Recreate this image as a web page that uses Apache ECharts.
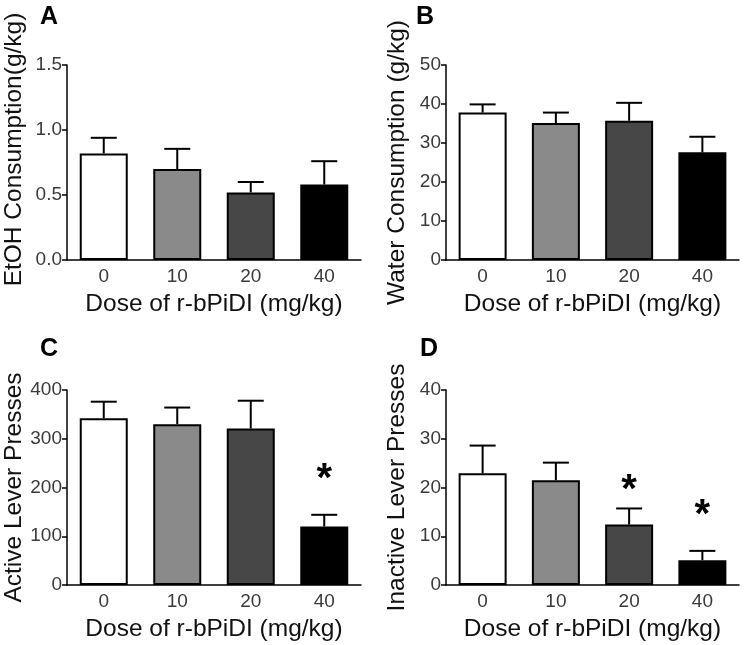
<!DOCTYPE html>
<html>
<head>
<meta charset="utf-8">
<script src="https://cdn.jsdelivr.net/npm/echarts@6/dist/echarts.min.js"></script>
<style>html,body{margin:0;padding:0;background:#fff}#c{width:749px;height:645px}</style>
</head>
<body>
<div id="c"></div>
<script>
const doses = ['0', '10', '20', '40'];
const etohMean = [0.82, 0.70, 0.52, 0.58];
const etohSem = [0.12, 0.155, 0.08, 0.18];
const waterMean = [37.8, 35.1, 35.7, 27.6];
const waterSem = [2.1, 2.7, 4.6, 4.0];
const activeMean = [342, 330, 321, 120];
const activeSem = [34, 34, 57, 24];
const inactiveMean = [22.9, 21.5, 12.4, 5.1];
const inactiveSem = [5.7, 3.6, 3.3, 1.9];
const activeStars = [null, null, null, 232];
const inactiveStars = [null, null, 20.9, 15.8];
const panelLetters = ['A', 'B', 'C', 'D'];
const yTitles = ['EtOH Consumption(g/kg)', 'Water Consumption (g/kg)', 'Active Lever Presses', 'Inactive Lever Presses'];
const xTitle = 'Dose of r-bPiDI (mg/kg)';
const yMax = [1.5, 50, 400, 40];
const yStep = [0.5, 10, 100, 10];
const barColors = ['#ffffff', '#8a8a8a', '#474747', '#000000'];

const FONT = 'Liberation Sans, Arial, sans-serif';
const grids = [
  {left: 67, top: 65, width: 294, height: 195},
  {left: 446, top: 65, width: 293, height: 195},
  {left: 67, top: 390, width: 294, height: 195},
  {left: 446, top: 390, width: 293, height: 195}
];
const letterPos = [[35, 0], [411, 0], [35, 332], [415, 332]];

const means = [etohMean, waterMean, activeMean, inactiveMean];
const sems = [etohSem, waterSem, activeSem, inactiveSem];

function errRender(params, api) {
  const x = api.value(0), m = api.value(1), s = api.value(2);
  const p0 = api.coord([x, m]);
  const p1 = api.coord([x, m + s]);
  const hw = 13;
  return {
    type: 'group',
    children: [
      {type: 'line', shape: {x1: p0[0], y1: p0[1], x2: p1[0], y2: p1[1]}, style: {stroke: '#000', lineWidth: 2}},
      {type: 'line', shape: {x1: p1[0] - hw, y1: p1[1], x2: p1[0] + hw, y2: p1[1]}, style: {stroke: '#000', lineWidth: 2}}
    ]
  };
}
function starRender(params, api) {
  const p = api.coord([api.value(0), api.value(1)]);
  return {
    type: 'text',
    x: p[0], y: p[1] + 8,
    style: {text: '*', font: 'bold 40px ' + FONT, fill: '#000', align: 'center', verticalAlign: 'middle'}
  };
}

const xAxes = [], yAxes = [], series = [];
for (let i = 0; i < 4; i++) {
  xAxes.push({
    gridIndex: i, type: 'category', data: doses,
    axisLine: {lineStyle: {color: '#000', width: 1.5}},
    axisTick: {alignWithLabel: true, length: 5, lineStyle: {color: '#000', width: 1.5}},
    axisLabel: {color: '#3a3a3a', fontSize: 19, fontFamily: FONT, margin: 7},
    name: xTitle, nameLocation: 'middle', nameGap: 32,
    nameTextStyle: {color: '#111', fontSize: 24.5, fontFamily: FONT}
  });
  yAxes.push({
    gridIndex: i, type: 'value', min: 0, max: yMax[i], interval: yStep[i],
    splitLine: {show: false},
    axisLine: {show: true, lineStyle: {color: '#000', width: 1.5}},
    axisTick: {show: true, length: 5, lineStyle: {color: '#000', width: 1.5}},
    axisLabel: {color: '#3a3a3a', fontSize: 19, fontFamily: FONT, margin: 5,
      formatter: i === 0 ? (v => v.toFixed(1)) : (v => String(v))},
    name: yTitles[i], nameLocation: 'middle', nameGap: i % 2 === 0 ? 40 : 36,
    nameTextStyle: {color: '#111', fontSize: 24.5, fontFamily: FONT, padding: i === 0 ? [0, 0, 0, 26] : 0}
  });
  series.push({
    type: 'bar', xAxisIndex: i, yAxisIndex: i, barWidth: 48,
    data: means[i].map((v, k) => ({value: v, itemStyle: {color: barColors[k]}})),
    itemStyle: {borderColor: '#000', borderWidth: 2},
    silent: true
  });
  series.push({
    type: 'custom', xAxisIndex: i, yAxisIndex: i, renderItem: errRender, z: 3,
    data: means[i].map((v, k) => [k, v, sems[i][k]]), silent: true
  });
}
series.push({
  type: 'custom', xAxisIndex: 2, yAxisIndex: 2, renderItem: starRender, z: 4,
  data: activeStars.map((v, k) => v === null ? null : [k, v]).filter(d => d), silent: true
});
series.push({
  type: 'custom', xAxisIndex: 3, yAxisIndex: 3, renderItem: starRender, z: 4,
  data: inactiveStars.map((v, k) => v === null ? null : [k, v]).filter(d => d), silent: true
});

const chart = echarts.init(document.getElementById('c'), null, {renderer: 'canvas'});
chart.setOption({
  animation: false,
  backgroundColor: '#fff',
  title: panelLetters.map((t, i) => ({
    text: t, left: letterPos[i][0], top: letterPos[i][1],
    textStyle: {fontSize: 25, fontWeight: 'bold', fontFamily: FONT, color: '#000'}
  })),
  grid: grids,
  xAxis: xAxes,
  yAxis: yAxes,
  series: series
});
</script>
</body>
</html>
